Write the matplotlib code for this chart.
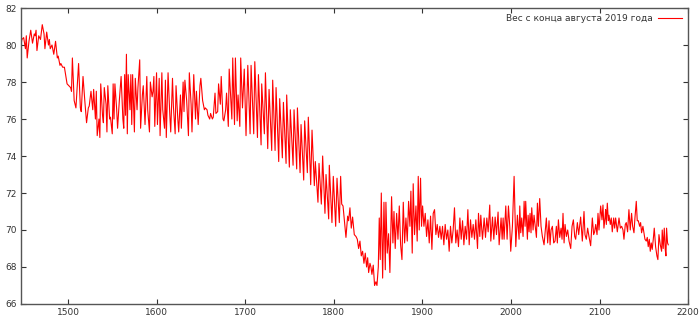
import matplotlib
matplotlib.use("Agg")
import matplotlib.pyplot as plt

label = "Вес с конца августа 2019 года"

days = [
1447,1448,1450,1452,1453,1454,1456,1458,1460,1462,1463,1464,1465,1467,1469,1471,1473,1474,1476,1478,
1479,1480,1482,1484,1486,1488,1489,1491,1492,1494,1496,1497,1499,1501,1503,1504,1505,1507,1509,1512,
1514,1515,1517,1519,1521,1523,1524,1526,1528,1529,1531,1532,1533,1535,1536,1537,1539,1540,1541,1543,
1544,1545,1547,1548,1550,1551,1552,1553,1555,1556,1558,1560,1562,1563,1564,1565,1566,1567,1568,1570,
1571,1572,1573,1575,1576,1578,1579,1581,1582,1584,1585,1587,1589,1590,1592,1593,1595,1596,1597,1598,
1600,1601,1603,1604,1606,1607,1609,1610,1611,1613,1615,1616,1618,1619,1621,1622,1624,1625,1627,1628,
1630,1631,1632,1634,1636,1637,1639,1640,1642,1644,1645,1647,1649,1650,1652,1654,1655,1657,1658,1660,
1661,1663,1664,1666,1667,1669,1670,1672,1673,1675,1676,1678,1679,1681,1682,1684,1685,1686,1688,1689,
1691,1692,1694,1695,1697,1699,1701,1703,
1705.6,1706.7,1709.7,1710.9,1713.9,1715.0,1718.0,
1718.7,1721.7,1722.9,1725.5,1727.0,1730.0,1731.1,1733.8,1734.9,1737.9,1739.0,1742.0,1743.2,1746.2,
1746.9,1749.9,1751.0,1754.1,1755.2,1758.2,1759.0,1762.0,1763.1,1766.1,1767.2,1770.2,1771.3,1774.0,
1775.5,1778.1,1779.2,1782.2,1783.4,1786.0,1787.5,1790.1,1791.3,1794.3,1795.0,1798.0,1799.5,1802.2,
1803.7,1806.3,1807.8,
1809.0,1810.5,1812.0,1813.8,1815.7,1816.8,1818.3,1819.8,1821.3,1823.2,1825.1,1826.6,1828.1,1829.6,
1831.1,1832.6,1834.1,1835.6,1837.1,1838.3,1839.4,1840.9,1842.0,1843.1,1844.6,1846.1,1847.6,1848.8,
1850.3,1851.4,1852.5,1853.7,1855.2,1856.7,1858.2,1858.9,1860.4,1861.9,1863.4,1865.3,1866.8,1868.0,
1869.4,1871.0,1872.5,1874.0,1875.5,1877.0,1878.5,1880.0,1881.5,1883.0,1884.5,1886.0,1887.1,1888.6,
1889.7,1891.2,1892.8,1894.2,1895.4,1896.5,1898.0,1899.1,1900.3,1901.8,1903.3,1904.8,1906.3,1907.8,
1909.3,1910.8,1912.3,1913.8,1915.3,1916.8,1918.3,1919.8,1921.3,1922.8,1924.3,1925.8,1927.3,1928.8,
1930.3,1931.8,1933.3,1934.8,1936.3,1937.8,1939.3,1940.8,1942.4,1943.9,1945.4,1946.9,1948.4,1949.9,
1951.4,1952.9,1954.4,1955.9,1957.4,1958.9,1960.4,1962.3,
1963.4,1964.9,1966.0,1967.9,1969.8,1971.3,1972.8,1974.3,1976.1,1977.3,1979.2,1980.7,1982.2,1983.7,
1985.5,1986.7,1988.9,1990.1,1991.2,1992.3,1994.2,1995.7,1997.2,1998.7,1999.8,2001.7,2003.6,2005.5,
2007.3,2009.2,2010.0,2011.1,2012.2,2013.7,2014.9,2016.0,2016.7,2018.6,2019.4,2020.5,2021.6,2022.7,
2023.5,2025.0,2026.1,2028.8,2029.9,2031.0,2032.5,2034.0,2035.5,2037.4,2040.0,2041.5,2043.0,2044.2,
2045.3,2046.8,2048.3,2049.8,2051.3,2052.4,2053.6,2055.1,2056.6,2057.7,2058.8,2060.0,2061.1,2062.6,
2064.1,2065.6,2067.5,2069.0,2070.5,2072.0,2073.1,2075.0,2076.5,2077.6,2078.7,2080.6,2082.5,2083.6,
2085.1,2086.6,2088.1,2090.0,2091.9,2093.4,2094.5,2095.7,2097.2,2098.3,2099.4,2101.3,2102.8,2103.9,
2105.0,2106.2,2106.9,2107.7,2108.8,2110.0,2110.7,2112.2,2113.3,2114.4,2116.0,2117.1,2118.2,2120.1,
2122.0,2123.5,2125.0,2126.5,2127.6,2129.1,2130.2,2131.7,2133.2,2134.7,2136.2,2137.4,2138.9,2140.0,
2141.5,2142.6,2143.8,2145.3,2146.4,2147.5,2149.0,2150.1,2151.3,2152.8,2153.9,2155.0,2156.2,2157.3,
2158.4,2159.5,2160.7,2161.8,2163.3,2164.8,2165.9,2167.1,2168.6,2170.1,2170.8,2171.9,2173.1,2174.2,
2175.0,2175.7,2176.8,2177.6,
]

weights = [
80.0,80.3,80.4,79.8,80.5,79.3,80.2,80.8,80.1,80.6,80.5,80.8,79.7,80.5,80.3,81.1,80.6,79.8,80.7,80.0,
80.3,79.8,80.0,79.5,80.2,79.3,79.4,78.9,79.0,78.8,78.8,78.5,77.9,77.8,77.7,77.5,79.3,77.0,76.6,79.0,
76.6,76.4,78.3,77.0,75.8,76.6,76.7,77.5,76.5,77.6,76.0,77.5,75.1,76.0,75.0,77.9,76.2,75.8,77.7,76.8,
75.3,77.8,76.0,76.1,75.2,77.9,76.0,77.9,76.5,75.5,77.0,78.3,76.0,75.5,78.4,76.2,79.5,75.2,78.4,76.5,
78.4,75.7,78.4,75.3,78.2,76.5,77.7,79.2,75.5,77.3,77.8,75.7,78.3,76.5,75.3,78.0,77.2,77.5,78.3,75.6,
78.5,75.7,78.2,75.1,78.5,76.5,75.5,78.1,75.0,78.5,76.2,75.3,78.2,76.7,75.2,77.8,76.0,75.3,77.3,75.5,
78.0,76.4,78.1,77.0,75.1,78.5,76.8,75.3,78.4,76.0,77.5,75.7,77.8,78.2,77.0,76.5,76.6,76.5,76.2,76.0,
76.3,76.0,76.1,77.4,76.3,76.4,77.9,76.8,78.3,76.0,75.9,76.5,77.4,75.6,78.7,76.9,76.0,79.3,75.7,79.3,
75.9,77.3,75.6,79.3,76.6,78.7,75.1,78.9,
75.2,78.9,75.2,79.1,75.0,78.4,74.6,
77.9,75.2,78.5,74.4,77.6,74.3,78.1,74.3,77.7,73.7,77.1,73.9,76.9,73.6,
77.3,73.4,76.5,73.5,76.5,73.3,76.6,73.1,75.7,72.7,75.9,73.1,76.1,72.45,
75.4,72.4,73.7,71.5,73.6,71.4,74.0,70.9,73.0,70.6,73.5,70.4,72.9,70.2,
72.8,70.4,72.9,
71.4,71.3,70.55,69.6,70.75,70.5,71.2,70.1,70.7,69.75,69.65,69.5,69.0,69.4,
68.6,68.85,68.2,68.75,68.0,68.5,67.7,68.2,68.0,67.6,68.1,67.0,67.2,67.0,
68.0,70.65,68.4,72.0,67.4,71.5,67.85,71.5,68.75,69.8,67.7,71.8,69.3,71.0,
69.0,70.9,69.5,71.3,69.2,68.4,71.5,69.3,70.65,69.4,71.55,70.2,72.1,68.75,
72.5,69.75,71.3,69.4,72.9,70.0,72.8,70.2,71.3,70.2,70.9,69.65,70.55,69.3,
70.75,68.95,70.9,71.1,69.75,70.3,69.6,70.2,69.5,70.2,69.2,70.3,69.5,70.0,
68.85,70.2,69.3,70.0,71.2,69.3,70.0,69.1,70.65,69.5,70.5,69.2,70.2,69.5,
71.1,69.2,70.55,69.6,70.3,69.5,70.55,69.0,
70.9,69.65,70.8,69.5,70.65,69.6,70.65,69.9,71.35,69.4,70.7,69.5,70.7,69.75,
70.97,69.2,70.65,69.5,70.65,69.5,71.3,69.5,71.3,70.2,68.85,70.2,72.9,69.1,
70.8,69.5,71.3,69.85,70.65,69.65,71.55,70.2,71.55,69.5,70.8,69.9,70.9,69.85,
71.2,70.0,70.8,69.6,71.45,70.2,71.7,70.2,69.65,69.2,70.65,69.3,70.5,69.2,
70.0,70.2,69.3,69.4,70.2,69.3,70.55,69.6,70.1,69.5,70.9,69.3,70.3,69.65,
70.0,69.4,69.0,70.2,70.55,69.65,69.5,70.4,69.75,70.2,70.7,69.4,71.0,69.75,
69.5,70.1,69.65,69.15,70.65,69.75,69.9,70.3,69.75,70.9,70.0,71.3,70.55,71.35,
70.1,70.65,71.1,70.3,71.45,70.5,70.8,70.3,70.65,69.9,70.65,70.1,70.65,69.9,
70.65,70.1,70.2,70.0,69.5,70.3,70.4,69.9,71.1,70.0,70.9,70.2,69.85,70.65,
71.55,70.5,70.5,70.2,70.4,69.85,70.2,69.85,69.5,69.4,69.6,69.1,69.5,68.85,
69.3,68.95,69.5,70.1,69.1,68.6,68.4,69.75,69.2,68.85,70.0,69.0,70.1,68.95,
68.6,70.1,69.3,69.2,
]

x_ticks = [1500, 1600, 1700, 1800, 1900, 2000, 2100, 2200]
y_ticks = [66, 68, 70, 72, 74, 76, 78, 80, 82]

fig = plt.figure(figsize=(7.0, 3.21), dpi=100)
ax = fig.add_axes([0.030, 0.053, 0.953, 0.922])
ax.plot(days, weights, color="#ff0000", lw=0.8, label=label)
ax.set_xlim(1447, 2200)
ax.set_ylim(66, 82)
ax.set_xticks(x_ticks)
ax.set_yticks(y_ticks)
ax.tick_params(direction="in", top=True, right=True, length=3.5, width=0.8,
               labelsize=6.5, colors="#333333", pad=3)
ax.tick_params(labeltop=False, labelright=False)
for s in ax.spines.values():
    s.set_color("#555555")
    s.set_linewidth(1.0)
leg = ax.legend(loc="upper right", frameon=False, markerfirst=False, fontsize=6.5,
                handlelength=2.6, borderaxespad=0.3, handletextpad=0.6)
for t in leg.get_texts():
    t.set_color("#333333")
fig.savefig("out.png", dpi=100)
